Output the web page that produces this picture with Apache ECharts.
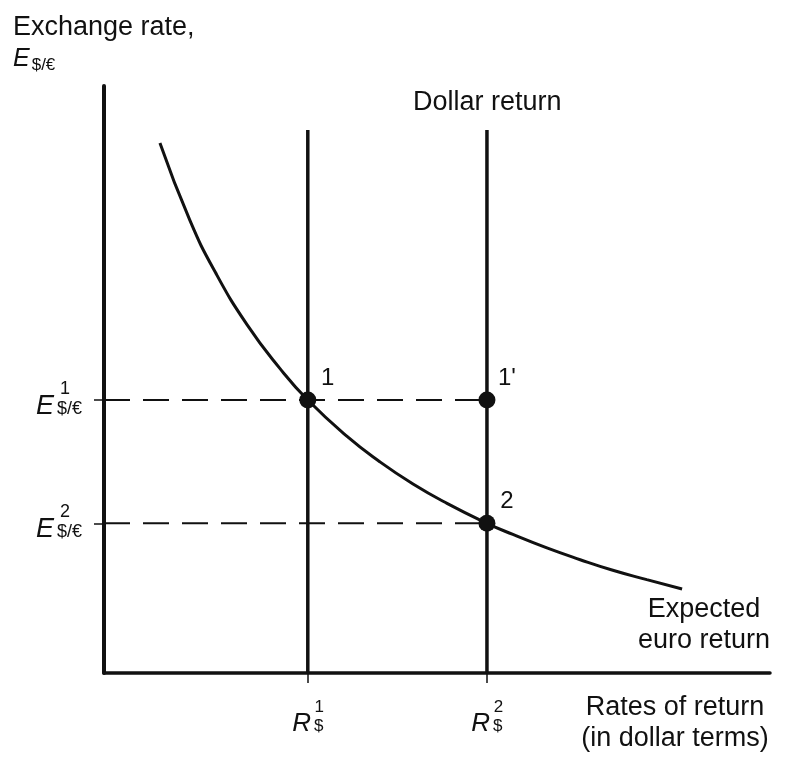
<!DOCTYPE html>
<html>
<head>
<meta charset="utf-8">
<script src="https://cdn.jsdelivr.net/npm/echarts@6/dist/echarts.min.js"></script>
<style>
	html, body { margin: 0; padding: 0; background: #fff; }
	#chart { width: 786px; height: 759px; }
</style>
</head>
<body>
<div id="chart"></div>
<script>
// Expected euro return curve (both axes on a 0-100 scale)
const curveX = [8.4, 12.9, 16.7, 21.5, 26.4, 30.6, 36.5, 41.4, 46.4, 51.5, 57.5, 61.4, 66.5, 71.5, 76.4, 81.5, 86.8]
const curveY = [90.3, 77.1, 68.3, 59.3, 51.9, 46.5, 40.3, 36.0, 32.2, 28.9, 25.5, 23.6, 21.3, 19.3, 17.5, 15.9, 14.3]

// Dollar return levels (R$1, R$2) and exchange rates (E1, E2)
const rateValues = [30.6, 57.5]
const rateNames = ['1', '2']
const exchangeValues = [46.5, 25.5]
const exchangeNames = ['1', '2']
const dollarLineTop = 92.5

// Points 1, 1' and 2
const pointX = [30.6, 57.5, 57.5]
const pointY = [46.5, 46.5, 25.5]
const pointNames = ['1', "1'", '2']

const FONT = 'Liberation Sans, Arial, sans-serif'
const INK = '#111'

const chart = echarts.init(document.getElementById('chart'))

const findIndex = (list, value) => list.findIndex((v) => Math.abs(v - value) < 1e-6)

var option = {
	animation: false,
	backgroundColor: '#fff',
	grid: { left: 104, top: 86, width: 666, height: 587 },
	xAxis: {
		type: 'value',
		min: 0,
		max: 100,
		splitLine: { show: false },
		axisLine: { lineStyle: { color: INK, width: 3.5 } },
		axisTick: { show: true, customValues: rateValues, length: 10, lineStyle: { color: INK, width: 1.5 } },
		axisLabel: {
			customValues: rateValues,
			margin: 28,
			formatter: (value) => {
				const i = findIndex(rateValues, value)
				return `{gap|}{sup|${rateNames[i]}}\n{r|R}{sub|$}`
			},
			rich: {
				gap: { width: 23, lineHeight: 12 },
				sup: { fontFamily: FONT, fontSize: 17, color: INK, lineHeight: 12 },
				r: { fontFamily: FONT, fontSize: 26, fontStyle: 'italic', color: INK, lineHeight: 22 },
				sub: { fontFamily: FONT, fontSize: 17, color: INK, lineHeight: 22, verticalAlign: 'bottom', padding: [0, 0, 0, 3] },
			},
		},
	},
	yAxis: {
		type: 'value',
		min: 0,
		max: 100,
		splitLine: { show: false },
		axisLine: { lineStyle: { color: INK, width: 4 } },
		axisTick: { show: true, customValues: exchangeValues, length: 10, lineStyle: { color: INK, width: 1.5 } },
		axisLabel: {
			customValues: exchangeValues,
			margin: 68,
			align: 'left',
			formatter: (value) => {
				const i = findIndex(exchangeValues, value)
				return `{gap|}{sup|${exchangeNames[i]}}\n{e|E}{sub|$/€}`
			},
			rich: {
				gap: { width: 24, lineHeight: 13 },
				sup: { fontFamily: FONT, fontSize: 18, color: INK, lineHeight: 13 },
				e: { fontFamily: FONT, fontSize: 27, fontStyle: 'italic', color: INK, lineHeight: 22 },
				sub: { fontFamily: FONT, fontSize: 18, color: INK, lineHeight: 22, verticalAlign: 'bottom', padding: [0, 0, 0, 3] },
			},
		},
	},
	graphic: [
		{
			type: 'text',
			x: 13,
			y: 11,
			style: {
				text: '{t|Exchange rate,}\n{e|E}{s|$/€}',
				rich: {
					t: { fontFamily: FONT, fontSize: 27, fill: INK, lineHeight: 33 },
					e: { fontFamily: FONT, fontSize: 25, fontStyle: 'italic', fill: INK, lineHeight: 30 },
					s: { fontFamily: FONT, fontSize: 17, fill: INK, lineHeight: 30, verticalAlign: 'bottom', padding: [0, 0, 0, 2] },
				},
			},
		},
		{
			type: 'text',
			x: 413,
			y: 89,
			style: { text: 'Dollar return', font: `27px ${FONT}`, fill: INK },
		},
		{
			type: 'text',
			x: 704,
			y: 594,
			style: { text: 'Expected\neuro return', font: `27px ${FONT}`, fill: INK, textAlign: 'center', lineHeight: 31 },
		},
		{
			type: 'text',
			x: 675,
			y: 692,
			style: { text: 'Rates of return\n(in dollar terms)', font: `27px ${FONT}`, fill: INK, textAlign: 'center', lineHeight: 31 },
		},
	],
	series: [
		// Expected euro return
		{
			type: 'line',
			smooth: true,
			symbol: 'none',
			lineStyle: { color: INK, width: 3 },
			data: curveX.map((x, i) => [x, curveY[i]]),
		},
		// Dollar return lines
		...rateValues.map((r) => ({
			type: 'line',
			symbol: 'none',
			lineStyle: { color: INK, width: 3.5 },
			data: [
				[r, 0],
				[r, dollarLineTop],
			],
		})),
		// Dashed guides
		...exchangeValues.map((e) => ({
			type: 'line',
			symbol: 'none',
			lineStyle: { color: INK, width: 2, type: [26, 13] },
			data: [
				[0, e],
				[rateValues[1], e],
			],
		})),
		// Points
		{
			type: 'scatter',
			symbolSize: 17,
			itemStyle: { color: INK, opacity: 1 },
			label: {
				show: true,
				position: 'inside',
				offset: [20, -22],
				fontFamily: FONT,
				fontSize: 24,
				color: INK,
				formatter: (p) => pointNames[p.dataIndex],
			},
			data: pointX.map((x, i) => [x, pointY[i]]),
			z: 5,
		},
	],
}

chart.setOption(option)
</script>
</body>
</html>
